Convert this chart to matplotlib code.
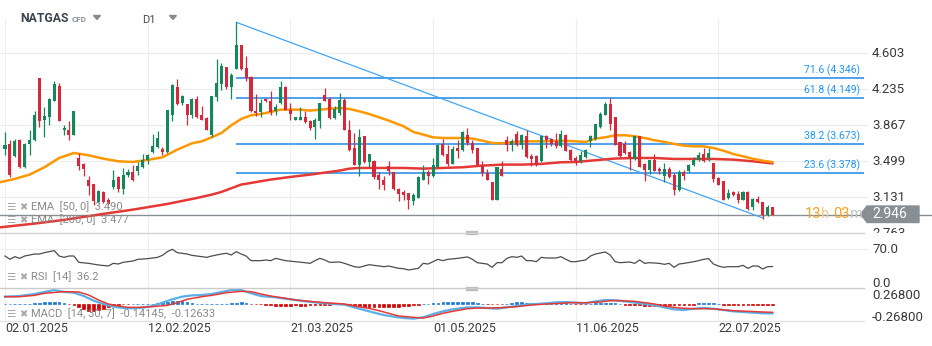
import matplotlib
matplotlib.use('Agg')
import matplotlib.pyplot as plt
from matplotlib.patches import Polygon, Rectangle
from matplotlib.lines import Line2D
from matplotlib.transforms import blended_transform_factory

plt.rcParams['font.family'] = ['Roboto', 'DejaVu Sans']

# NATGAS daily candles, bar 0 = 02.01.2025
opens = [3.628, 3.676, 3.550, 3.714, 3.441, 3.680, 3.714, 4.347, 3.918, 3.949,
         4.119, 4.266, 3.816, 3.816, 3.772, 3.530, 3.472, 3.305, 3.267, 3.083,
         3.185, 3.104, 3.233, 3.339, 3.220, 3.356, 3.390, 3.404, 3.438, 3.516,
         3.591, 3.642, 3.625, 3.591, 3.969, 4.255, 4.095, 4.085, 3.969, 4.136,
         3.969, 3.942, 3.765, 4.157, 4.293, 4.460, 4.259, 4.446, 4.685, 4.453,
         4.358, 4.017, 4.003, 4.136, 4.112, 4.010, 4.095, 4.255, 4.020, 3.925,
         3.925, 3.952, 3.908, 3.850, 3.908, 4.174, 4.136, 3.942, 3.993, 4.129,
         3.816, 3.635, 3.465, 3.755, 3.492, 3.499, 3.363, 3.312, 3.448, 3.390,
         3.216, 3.186, 3.175, 3.097, 3.124, 3.312, 3.390, 3.346, 3.441, 3.676,
         3.574, 3.475, 3.635, 3.611, 3.772, 3.686, 3.635, 3.465, 3.380, 3.288,
         3.107, 3.424, 3.720, 3.663, 3.778, 3.669, 3.755, 3.557, 3.550, 3.499,
         3.755, 3.731, 3.710, 3.652, 3.765, 3.618, 3.533, 3.506, 3.540, 3.703,
         3.731, 3.850, 3.976, 4.085, 3.952, 3.697, 3.676, 3.594, 3.526, 3.755,
         3.472, 3.414, 3.516, 3.421, 3.346, 3.421, 3.363, 3.209, 3.387, 3.397,
         3.458, 3.516, 3.574, 3.533, 3.482, 3.329, 3.301, 3.124, 3.186, 3.165,
         3.107, 3.186, 3.029, 3.114, 3.083, 2.954, 3.029]
highs = [3.799, 3.720, 3.731, 3.731, 3.683, 3.823, 4.010, 4.347, 4.051, 4.146,
         4.323, 4.300, 3.867, 3.908, 4.017, 3.584, 3.479, 3.346, 3.267, 3.202,
         3.192, 3.124, 3.414, 3.346, 3.431, 3.424, 3.465, 3.492, 3.574, 3.574,
         3.778, 3.806, 3.642, 4.020, 4.289, 4.340, 4.174, 4.085, 4.146, 4.163,
         4.061, 3.952, 4.163, 4.545, 4.504, 4.460, 4.402, 4.920, 4.685, 4.572,
         4.368, 4.187, 4.136, 4.146, 4.214, 4.085, 4.323, 4.266, 4.095, 3.956,
         4.051, 4.010, 3.925, 3.942, 4.095, 4.249, 4.153, 4.068, 4.197, 4.146,
         3.925, 3.789, 3.830, 3.755, 3.574, 3.516, 3.390, 3.346, 3.499, 3.390,
         3.226, 3.209, 3.175, 3.175, 3.346, 3.458, 3.414, 3.533, 3.676, 3.731,
         3.669, 3.659, 3.720, 3.806, 3.840, 3.720, 3.635, 3.506, 3.424, 3.288,
         3.438, 3.506, 3.755, 3.731, 3.806, 3.778, 3.823, 3.574, 3.560, 3.761,
         3.772, 3.737, 3.789, 3.823, 3.778, 3.625, 3.550, 3.601, 3.625, 3.772,
         3.881, 4.003, 4.102, 4.146, 3.952, 3.697, 3.710, 3.608, 3.755, 3.755,
         3.482, 3.516, 3.574, 3.438, 3.482, 3.438, 3.380, 3.414, 3.414, 3.472,
         3.540, 3.594, 3.635, 3.635, 3.482, 3.336, 3.301, 3.220, 3.192, 3.192,
         3.192, 3.192, 3.124, 3.141, 3.083, 3.049, 3.029]
lows = [3.567, 3.335, 3.540, 3.431, 3.431, 3.560, 3.703, 3.847, 3.744, 3.867,
        4.112, 3.915, 3.765, 3.720, 3.765, 3.414, 3.346, 3.158, 3.056, 3.070,
        3.070, 3.056, 3.220, 3.186, 3.168, 3.335, 3.301, 3.363, 3.431, 3.472,
        3.581, 3.635, 3.560, 3.581, 3.908, 4.071, 4.078, 3.874, 3.942, 3.942,
        3.918, 3.819, 3.744, 4.112, 4.225, 4.242, 4.136, 4.446, 4.436, 4.323,
        4.000, 3.959, 3.956, 4.102, 3.976, 3.969, 4.088, 4.020, 3.925, 3.918,
        3.925, 3.891, 3.823, 3.731, 3.840, 4.112, 3.935, 3.935, 3.976, 3.816,
        3.608, 3.465, 3.346, 3.482, 3.438, 3.322, 3.220, 3.209, 3.363, 3.209,
        3.097, 3.107, 3.015, 3.049, 3.124, 3.305, 3.267, 3.339, 3.441, 3.550,
        3.448, 3.475, 3.533, 3.608, 3.669, 3.584, 3.458, 3.346, 3.312, 3.107,
        3.107, 3.346, 3.608, 3.608, 3.652, 3.628, 3.533, 3.448, 3.448, 3.492,
        3.635, 3.659, 3.635, 3.645, 3.601, 3.506, 3.465, 3.482, 3.533, 3.642,
        3.720, 3.840, 3.969, 3.823, 3.669, 3.540, 3.574, 3.414, 3.516, 3.441,
        3.301, 3.369, 3.397, 3.369, 3.285, 3.329, 3.158, 3.199, 3.305, 3.390,
        3.448, 3.499, 3.492, 3.499, 3.288, 3.254, 3.107, 3.114, 3.141, 3.073,
        3.104, 3.005, 3.005, 3.073, 2.910, 2.944, 2.946]
closes = [3.669, 3.363, 3.710, 3.441, 3.676, 3.714, 3.976, 3.915, 3.966, 4.136,
          4.289, 3.915, 3.840, 3.772, 4.010, 3.455, 3.424, 3.243, 3.090, 3.192,
          3.080, 3.066, 3.312, 3.220, 3.363, 3.390, 3.312, 3.455, 3.516, 3.560,
          3.656, 3.737, 3.594, 4.020, 4.283, 4.085, 4.163, 3.976, 4.136, 3.949,
          3.925, 3.823, 4.163, 4.300, 4.470, 4.259, 4.378, 4.685, 4.446, 4.351,
          4.010, 3.993, 4.095, 4.112, 4.003, 4.051, 4.255, 4.020, 3.986, 3.952,
          3.952, 3.898, 3.840, 3.918, 4.095, 4.119, 3.942, 4.037, 4.129, 3.823,
          3.618, 3.465, 3.748, 3.489, 3.574, 3.336, 3.312, 3.261, 3.404, 3.220,
          3.168, 3.158, 3.107, 3.151, 3.335, 3.390, 3.353, 3.458, 3.663, 3.560,
          3.475, 3.628, 3.608, 3.795, 3.686, 3.618, 3.465, 3.380, 3.312, 3.107,
          3.438, 3.353, 3.669, 3.710, 3.669, 3.765, 3.540, 3.523, 3.458, 3.761,
          3.714, 3.680, 3.652, 3.778, 3.608, 3.516, 3.499, 3.560, 3.618, 3.755,
          3.881, 3.983, 4.085, 3.881, 3.669, 3.550, 3.584, 3.533, 3.755, 3.441,
          3.414, 3.516, 3.404, 3.397, 3.421, 3.336, 3.209, 3.390, 3.353, 3.465,
          3.516, 3.567, 3.506, 3.584, 3.322, 3.261, 3.107, 3.175, 3.151, 3.107,
          3.186, 3.015, 3.114, 3.083, 2.954, 3.029, 2.946]

# moving averages, read at selected bars
ema50_bars = [-1, 2, 5, 8, 11, 14, 17, 20, 23, 26, 29, 32, 35, 38, 40, 42, 44, 46,
              48, 50, 52, 54, 56, 58, 60, 62, 64, 66, 68, 70, 72, 74, 76, 78, 81,
              83, 85, 87, 89, 91, 93, 95, 97, 99, 101, 103, 105, 109, 113, 116,
              118, 120, 122, 124, 126, 128, 130, 132, 134, 136, 138, 140, 142,
              144, 146, 148, 150, 152, 154, 156]
ema50 = [3.285, 3.319, 3.363, 3.438, 3.533, 3.584, 3.560, 3.526, 3.499, 3.492,
         3.513, 3.540, 3.618, 3.683, 3.703, 3.744, 3.789, 3.867, 3.932, 3.969,
         3.983, 4.003, 4.027, 4.027, 4.027, 4.017, 4.027, 4.037, 4.044, 4.034,
         4.010, 3.983, 3.949, 3.915, 3.857, 3.799, 3.772, 3.744, 3.737, 3.737,
         3.737, 3.731, 3.710, 3.686, 3.683, 3.693, 3.703, 3.703, 3.710, 3.703,
         3.697, 3.731, 3.744, 3.765, 3.765, 3.755, 3.737, 3.714, 3.697, 3.676,
         3.659, 3.652, 3.652, 3.635, 3.608, 3.574, 3.550, 3.525, 3.505, 3.490]
ema200_bars = [-1, 6, 12, 19, 26, 33, 39, 42, 44, 48, 50, 54, 58, 62, 66, 68, 70,
               72, 78, 81, 85, 89, 93, 97, 101, 105, 109, 113, 116, 120, 124, 128,
               132, 136, 140, 144, 148, 152, 156]
ema200 = [2.824, 2.862, 2.900, 2.954, 3.005, 3.063, 3.124, 3.158, 3.186, 3.261,
          3.278, 3.312, 3.339, 3.363, 3.390, 3.404, 3.424, 3.431, 3.431, 3.431,
          3.424, 3.431, 3.438, 3.455, 3.465, 3.465, 3.472, 3.489, 3.492, 3.510,
          3.527, 3.533, 3.533, 3.523, 3.523, 3.523, 3.516, 3.499, 3.477]

# fibonacci retracement and trendline
fib_pct = ['71.6', '61.8', '38.2', '23.6']
fib_val = [4.346, 4.149, 3.673, 3.378]
trend_bars = [47, 154]
trend_vals = [4.920, 2.920]
last_price = 2.946

# RSI 14
rsi_bars = [0, 1, 2, 3, 4, 5, 6, 7, 8, 10, 11, 12, 13, 14, 15, 17, 19, 21, 22, 23,
            24, 26, 27, 29, 31, 32, 33, 34, 35, 36, 37, 38, 40, 41, 42, 44, 45, 46,
            47, 48, 49, 50, 52, 53, 54, 55, 57, 59, 61, 62, 63, 64, 65, 66, 68, 69,
            71, 72, 74, 76, 77, 78, 80, 81, 82, 84, 85, 86, 87, 88, 89, 90, 92, 94,
            95, 96, 98, 99, 100, 101, 102, 103, 104, 105, 106, 107, 108, 109, 110,
            112, 113, 114, 115, 116, 118, 119, 120, 122, 123, 124, 125, 127, 128,
            129, 130, 131, 133, 134, 135, 136, 137, 138, 140, 141, 142, 143, 144,
            145, 146, 147, 149, 150, 151, 152, 153, 154, 155, 156]
rsi = [56.8, 50.3, 55.5, 52.2, 56.8, 58.8, 60.7, 60.7, 63.4, 67.3, 56.8, 54.2, 56.8,
       56.8, 44.4, 42.4, 39.2, 37.2, 42.4, 41.1, 44.4, 47.0, 50.3, 51.6, 54.2, 58.1,
       65.3, 69.9, 63.4, 62.1, 60.7, 58.1, 55.5, 54.2, 56.8, 60.7, 62.1, 58.8, 65.3,
       60.7, 56.8, 47.7, 47.7, 49.0, 47.7, 52.2, 47.7, 45.7, 43.7, 42.4, 47.7, 52.2,
       49.0, 44.4, 45.1, 42.4, 35.9, 34.6, 39.8, 37.2, 35.9, 37.2, 32.6, 32.0, 29.4,
       32.6, 42.4, 41.1, 45.7, 50.3, 47.7, 50.3, 52.2, 55.0, 50.3, 43.7, 41.1, 34.6,
       43.7, 43.7, 52.2, 55.5, 54.2, 56.8, 47.7, 47.7, 45.7, 54.2, 52.9, 52.9, 55.5,
       50.3, 45.7, 45.7, 49.0, 56.8, 60.7, 64.7, 58.8, 45.7, 43.7, 45.1, 42.4, 49.0,
       42.4, 43.7, 42.4, 40.5, 42.4, 34.6, 41.1, 42.4, 45.7, 47.7, 50.3, 51.6, 41.1,
       37.2, 34.6, 35.9, 35.9, 38.5, 32.6, 37.2, 37.2, 31.3, 35.9, 36.2]

# MACD 14/30/7
macd_bars = [0, 3, 6, 8, 10, 12, 14, 16, 18, 20, 22, 24, 26, 28, 30, 32, 34, 36, 38,
             40, 42, 44, 46, 48, 50, 52, 55, 57, 59, 61, 63, 65, 67, 69, 71, 73, 75,
             77, 79, 81, 83, 85, 87, 89, 91, 94, 96, 98, 100, 102, 104, 106, 108,
             110, 112, 114, 116, 118, 120, 122, 124, 126, 128, 130, 132, 134, 136,
             138, 140, 142, 144, 146, 148, 150, 152, 154, 156]
macd = [0.111, 0.121, 0.152, 0.182, 0.212, 0.182, 0.172, 0.121, 0.051, 0.0,
        -0.040, -0.061, -0.066, -0.056, -0.030, 0.020, 0.071, 0.111, 0.131, 0.136,
        0.152, 0.182, 0.212, 0.212, 0.162, 0.121, 0.101, 0.081, 0.061, 0.040,
        0.025, 0.010, 0.0, -0.010, -0.051, -0.091, -0.131, -0.167, -0.192, -0.212,
        -0.222, -0.202, -0.152, -0.111, -0.081, -0.051, -0.051, -0.061, -0.071,
        -0.051, -0.030, -0.010, 0.0, 0.010, 0.025, 0.030, 0.020, 0.010, 0.040,
        0.061, 0.056, 0.040, 0.020, 0.0, -0.020, -0.051, -0.081, -0.091, -0.071,
        -0.061, -0.071, -0.091, -0.111, -0.121, -0.131, -0.141, -0.14145]
signal_bars = [0, 3, 6, 8, 12, 15, 17, 19, 21, 23, 25, 27, 30, 33, 35, 37, 40, 42,
               45, 48, 50, 52, 54, 57, 59, 62, 65, 67, 69, 71, 74, 76, 78, 80, 83,
               85, 87, 89, 91, 94, 96, 99, 102, 104, 107, 110, 113, 115, 118, 121,
               123, 125, 128, 130, 132, 134, 137, 140, 143, 145, 148, 151, 154, 156]
signal = [0.111, 0.111, 0.131, 0.162, 0.187, 0.182, 0.136, 0.061, 0.0, -0.030,
          -0.051, -0.051, -0.040, -0.020, 0.020, 0.071, 0.111, 0.131, 0.172, 0.192,
          0.187, 0.152, 0.121, 0.086, 0.061, 0.040, 0.020, 0.010, 0.0, -0.030,
          -0.066, -0.101, -0.141, -0.182, -0.202, -0.212, -0.182, -0.141, -0.111,
          -0.071, -0.061, -0.061, -0.051, -0.040, -0.015, 0.0, 0.010, 0.020, 0.020,
          0.030, 0.051, 0.051, 0.040, 0.020, 0.0, -0.030, -0.061, -0.071, -0.071,
          -0.081, -0.101, -0.111, -0.121, -0.12633]
hist = [0.004, 0.004, 0.004, 0.0, 0.0, 0.0, 0.015, 0.02, 0.025, 0.03,
        0.035, 0.03, 0.02, -0.005, -0.01, -0.05, -0.08, -0.1, -0.1, -0.09,
        -0.07, -0.05, -0.03, -0.01, -0.005, -0.005, 0.0, 0.005, 0.005, 0.005,
        0.005, 0.015, 0.025, 0.035, 0.045, 0.045, 0.04, 0.03, 0.02, 0.005,
        0.005, 0.0, 0.0, 0.005, 0.005, 0.005, 0.01, 0.02, 0.025, 0.02,
        -0.005, -0.005, -0.005, -0.015, -0.02, -0.025, -0.025, -0.025, -0.025, -0.02,
        -0.025, -0.025, -0.02, -0.02, -0.02, -0.015, -0.01, -0.005, -0.005, -0.005,
        -0.015, -0.03, -0.035, -0.04, -0.045, -0.045, -0.05, -0.05, -0.05, -0.045,
        -0.04, -0.035, -0.03, -0.02, -0.01, 0.005, 0.005, 0.01, 0.02, 0.03,
        0.035, 0.035, 0.035, 0.03, 0.03, 0.025, 0.02, 0.0, -0.005, -0.005,
        -0.005, -0.005, 0.0, 0.02, 0.025, 0.025, 0.02, 0.01, 0.01, 0.01,
        0.01, 0.01, 0.01, 0.01, 0.01, 0.0, -0.005, -0.005, -0.005, 0.0,
        0.015, 0.02, 0.02, 0.02, 0.015, 0.0, -0.01, -0.015, -0.02, -0.02,
        -0.025, -0.025, -0.025, -0.025, -0.025, -0.02, -0.02, -0.02, -0.015, -0.015,
        -0.01, 0.008, 0.008, 0.008, 0.008, 0.0, -0.008, -0.008, -0.008, -0.008,
        -0.008, -0.008, -0.008, -0.008, -0.008, -0.008, -0.008]

price_ticks = [4.603, 4.235, 3.867, 3.499, 3.131, 2.763]
date_bars = [0, 29, 58, 87, 116, 145]
date_labels = ['02.01.2025', '12.02.2025', '21.03.2025', '01.05.2025', '11.06.2025', '22.07.2025']

W, H = 932, 346
fig = plt.figure(figsize=(W / 100, H / 100), dpi=100)


def fx(x):
    return x / W


def fy(y):
    return 1 - y / H


# bar spacing in pixels, first bar at x=5
step, x0 = 4.92, 5
x_lo, x_hi = -x0 / step, (W - x0) / step
grid_end = (868 - x0) / step

ax = fig.add_axes([0, fy(232.7), 1, (232.7 - 18) / H])
ax_rsi = fig.add_axes([0, fy(288.3), 1, (288.3 - 232.7) / H])
ax_macd = fig.add_axes([0, fy(320.7), 1, (320.7 - 288.3) / H])
ax.set_ylim(2.769, 4.964)
ax_rsi.set_ylim(-6.5, 102.5)
ax_macd.set_ylim(-0.253, 0.238)
for a in (ax, ax_rsi, ax_macd):
    a.set_xlim(x_lo, x_hi)
    a.axis('off')
    lo, hi = a.get_ylim()
    a.vlines(date_bars, lo, hi, color='#efefef', lw=0.8, zorder=0)

grid = '#ececec'
ax.hlines(price_ticks[:-1], x_lo, grid_end, color=grid, lw=0.8, zorder=0)
ax_rsi.hlines([70], x_lo, grid_end, color=grid, lw=0.8, zorder=0)

# panel separators and resize handles
for y, c in [(232.7, '#d2d2d2'), (288.3, '#cbcbcb'), (320.7, '#e3e3e3')]:
    fig.add_artist(Line2D([0, fx(864)], [fy(y), fy(y)], color=c, lw=1))
for y in (232.7, 288.3):
    fig.add_artist(Rectangle((fx(466), fy(y + 1.3)), 11 / W, 2.6 / H, color='#bdbdbd'))

# fibonacci levels
fib_start, fib_end = 47, (864 - x0) / step
for pct, v in zip(fib_pct, fib_val):
    ax.hlines(v, fib_start, fib_end, color='#1e88e5', lw=1.1, zorder=2)
    ax.annotate(f'{pct} ({v:.3f})', xy=((860 - x0) / step, v), xytext=(0, 5.6),
                textcoords='offset points', ha='right', va='center',
                fontsize=7.5, color='#2196f3')

ax.plot(trend_bars, trend_vals, color='#42a5f5', lw=0.9, zorder=2)
ax.axhline(last_price, color='#878f94', lw=1, zorder=1)

# averages
ax.plot(ema200_bars, ema200, color='#e53935', lw=1.8, zorder=3, solid_capstyle='round')
ax.plot(ema50_bars, ema50, color='#ff9800', lw=1.8, zorder=3, solid_capstyle='round')

# candles
green, red = '#15875a', '#d6283b'
idx = list(range(len(closes)))
cols = [green if c >= o else red for o, c in zip(opens, closes)]
ax.vlines(idx, lows, highs, colors=cols, lw=0.9, zorder=4)
bottoms = [min(o, c) for o, c in zip(opens, closes)]
heights = [max(abs(c - o), 0.006) for o, c in zip(opens, closes)]
ax.bar(idx, heights, bottom=bottoms, width=0.62, color=cols, zorder=5)

# right price scale
lab_x = (872 - x0) / step
for v in price_ticks:
    ax.text(lab_x, v, f'{v:.3f}', ha='left', va='center', fontsize=9.5,
            color='#3a3a3a', clip_on=True)
ax_rsi.text(lab_x, 70, '70.0', ha='left', va='center', fontsize=9.5, color='#3a3a3a')
ax_rsi.text(lab_x, 3, '0.0', ha='left', va='center', fontsize=9.5, color='#3a3a3a')
mtr = blended_transform_factory(ax_macd.transData, ax_macd.transAxes)
ax_macd.text(lab_x, 0.77, '0.26800', ha='left', va='center', fontsize=9.5,
             color='#3a3a3a', transform=mtr)
ax_macd.text(lab_x, 0.10, '-0.26800', ha='left', va='center', fontsize=9.5,
             color='#3a3a3a', transform=mtr)

# RSI
ax_rsi.plot(rsi_bars, rsi, color='#4d4d4d', lw=0.9)

# MACD
hcols = ['#1976d2' if h >= 0 else '#d50000' for h in hist]
ax_macd.bar(idx, hist, width=0.55, color=hcols, edgecolor=hcols, lw=0.5, zorder=2)
ax_macd.plot(macd_bars, macd, color='#5aafe6', lw=1.6, zorder=3)
ax_macd.plot(signal_bars, signal, color='#e53935', lw=1.1, zorder=4)

# date axis
tr = blended_transform_factory(ax_macd.transData, fig.transFigure)
for b, s in zip(date_bars, date_labels):
    ax_macd.text(b, fy(328.5), s, transform=tr, ha='left', va='center',
                 fontsize=9, color='#3c3c3c', clip_on=False)

# indicator captions
icon_font = ['DejaVu Sans']
rows = [(207, 'EMA  [50, 0]  3.490'), (220, 'EMA  [200, 0]  3.477'),
        (277, 'RSI  [14]  36.2'), (314, 'MACD  [14, 30, 7]  -0.14145,  -0.12633')]
for y, s in rows:
    fig.text(fx(6), fy(y), '\u2630', fontsize=7.5, color='#a8a8a8', va='center', family=icon_font)
    fig.text(fx(19), fy(y), '\u2716', fontsize=7, color='#a8a8a8', va='center', family=icon_font)
    fig.text(fx(31), fy(y), s, fontsize=8, color='#8a8a8a', va='center')

# header
fig.text(fx(20), fy(19), 'NATGAS', fontsize=8.8, weight='bold', color='#3b4450', va='center')
fig.text(fx(72), fy(19), 'CFD', fontsize=5.8, weight='bold', color='#8b9099', va='center')
fig.text(fx(142), fy(20), 'D1', fontsize=8, color='#4a4a4a', va='center')
for x in (97, 173):
    fig.add_artist(Polygon([(fx(x - 3.5), fy(15.5)), (fx(x + 3.5), fy(15.5)), (fx(x), fy(19.5))],
                           closed=True, color='#8a8a8a'))

# countdown, pieces laid out one after another
renderer = fig.canvas.get_renderer()
cx = 805
for s, c, gap in [('13', '#f5a21d', 0), ('h', '#f3c98e', 4), ('03', '#f5a21d', 0), ('m', '#c4c4c4', 0)]:
    t = fig.text(fx(cx), fy(213.5), s, fontsize=10.5, color=c, va='center')
    cx += t.get_window_extent(renderer).width + gap

# last price tag
tag = [(860.7, 214.2), (867, 206), (919, 206), (919, 222.5), (867, 222.5)]
fig.add_artist(Polygon([(fx(x), fy(y)) for x, y in tag], closed=True, color='#878f94'))
fig.text(fx(872), fy(214.5), f'{last_price:.3f}', fontsize=10, color='white', va='center')

fig.savefig('out.png', dpi=100)
